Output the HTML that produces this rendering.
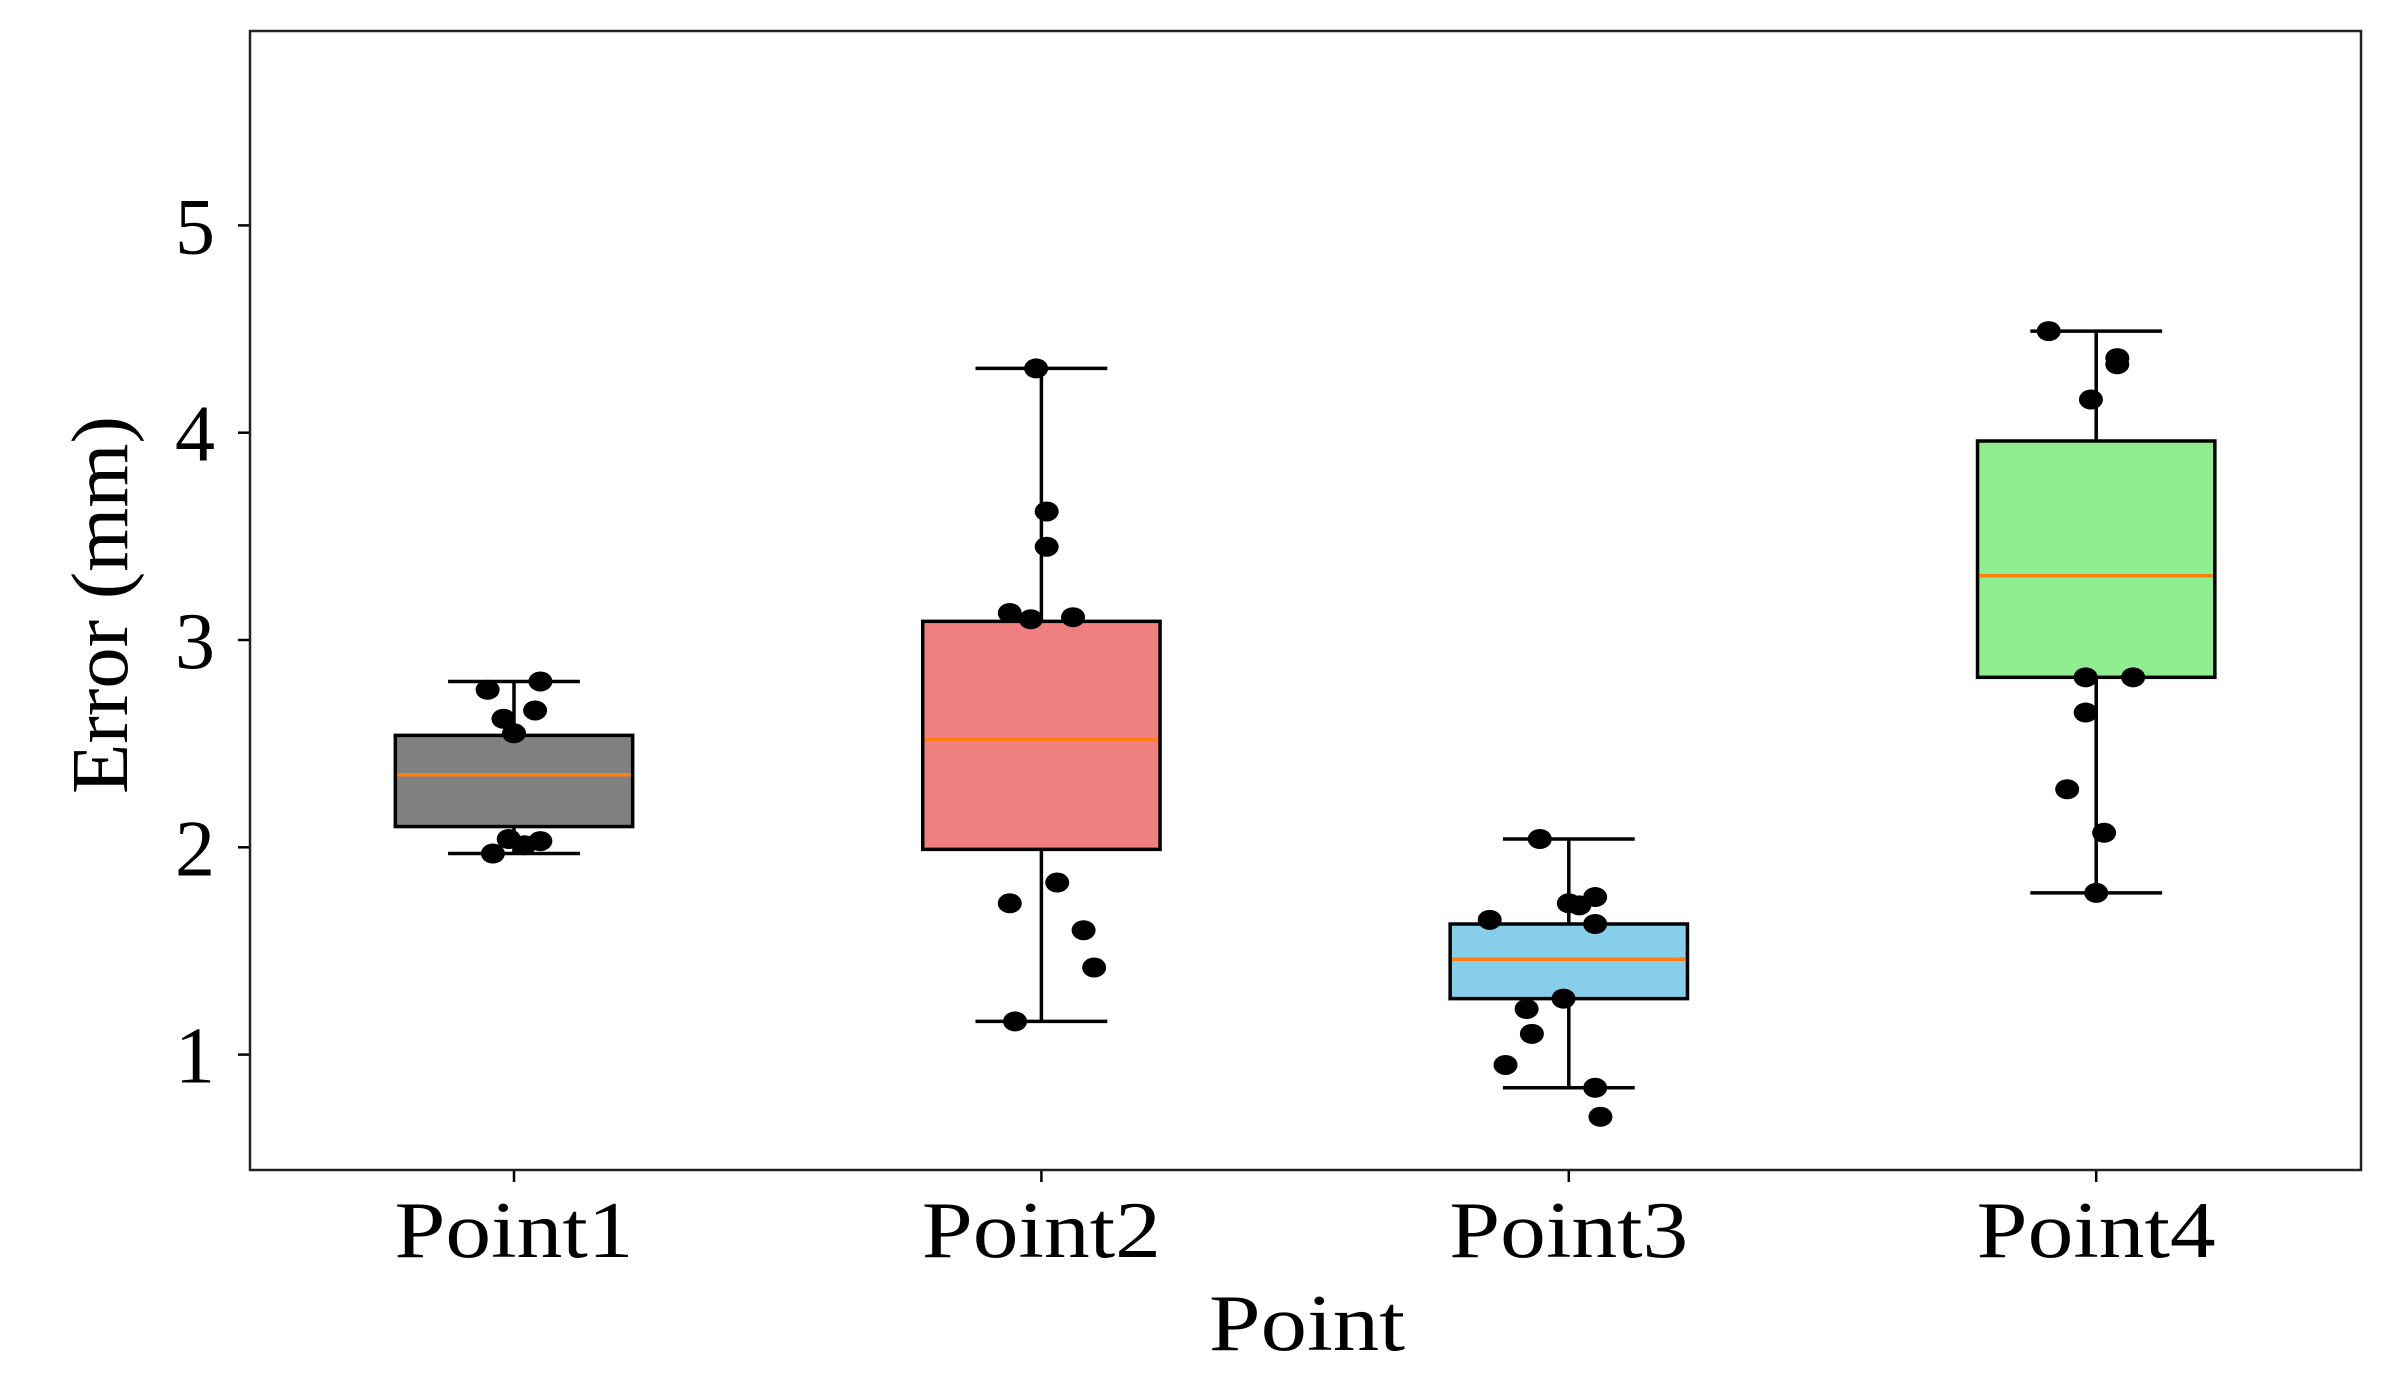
<!DOCTYPE html>
<html><head><meta charset="utf-8"><style>body{margin:0;background:#fff}svg{display:block}</style></head>
<body>
<svg id="chart" width="2408" height="1377" viewBox="0 0 2408 1377" xmlns="http://www.w3.org/2000/svg" font-family="'Liberation Serif', serif">
<rect width="2408" height="1377" fill="#fff"/>
<g id="marks"></g>
</svg>
<script>
const categories = ["Point1","Point2","Point3","Point4"];
const colors = ["#808080","#f08080","#87ceeb","#90ee90"];
const whiskerLow = [1.97,1.16,0.84,1.78];
const q1 = [2.10,1.99,1.27,2.82];
const medians = [2.35,2.52,1.46,3.31];
const q3 = [2.54,3.09,1.63,3.96];
const whiskerHigh = [2.80,4.31,2.04,4.49];
const pts1 = [2.80,2.76,2.66,2.62,2.55,2.04,2.03,2.01,1.97];
const jit1 = [0.05,-0.05,0.04,-0.02,0,-0.01,0.05,0.02,-0.04];
const pts2 = [4.31,3.62,3.45,3.13,3.11,3.10,1.83,1.73,1.60,1.42,1.16];
const jit2 = [-0.01,0.01,0.01,-0.06,0.06,-0.02,0.03,-0.06,0.08,0.10,-0.05];
const pts3 = [2.04,1.76,1.73,1.72,1.65,1.63,1.27,1.22,1.10,0.95,0.84,0.70];
const jit3 = [-0.055,0.05,0.0,0.02,-0.15,0.05,-0.01,-0.08,-0.07,-0.12,0.05,0.06];
const pts4 = [4.49,4.36,4.33,4.16,2.82,2.82,2.65,2.28,2.07,1.78];
const jit4 = [-0.09,0.04,0.04,-0.01,-0.02,0.07,-0.02,-0.055,0.015,0];
const yTicks = [1,2,3,4,5];

const L=250,R=2361,T=31,B=1170;
const SX=527.4, SY=207.3;
const x = v => 514 + (v-1)*SX;
const y = v => 225.4 + (5-v)*SY;
const NS="http://www.w3.org/2000/svg";
const g=document.getElementById('marks');
function mk(tag,attrs,parent){const e=document.createElementNS(NS,tag);for(const k in attrs)e.setAttribute(k,attrs[k]);(parent||g).appendChild(e);return e;}

const pts=[pts1,pts2,pts3,pts4], jits=[jit1,jit2,jit3,jit4];
const hw=0.225*SX, cap=0.125*SX;
categories.forEach((c,i)=>{
  const cx=x(i+1);
  const grp=mk('g',{});
  
  
  let e=mk('line',{x1:cx,x2:cx,y1:y(whiskerLow[i]),y2:y(whiskerHigh[i]),stroke:'#000','stroke-width':3.5},grp);
  
  
  [whiskerLow[i],whiskerHigh[i]].forEach(v=>{
    const w=mk('line',{x1:cx-cap,x2:cx+cap,y1:y(v),y2:y(v),stroke:'#000','stroke-width':3.5},grp);
    
    
  });
  e=mk('rect',{x:cx-hw,y:y(q3[i]),width:2*hw,height:y(q1[i])-y(q3[i]),fill:colors[i],stroke:'#000','stroke-width':3.5},grp);
  
  
  pts[i].forEach((v,j)=>{
    const d=mk('ellipse',{cx:x(i+1+jits[i][j]),cy:y(v),rx:12,ry:10,fill:'#000'},grp);
    
    
  });
  e=mk('line',{x1:cx-hw+2,x2:cx+hw-2,y1:y(medians[i]),y2:y(medians[i]),stroke:'#ff7f0e','stroke-width':3.5},grp);
  
  
  const tk=mk('line',{x1:cx,x2:cx,y1:B,y2:B+12,stroke:'#000','stroke-width':2.5});
  
  
  const t=mk('text',{x:cx,y:1257,'text-anchor':'middle','font-size':80,textLength:239,lengthAdjust:'spacingAndGlyphs'});
  t.textContent=c;
  
  
});
yTicks.forEach(v=>{
  const tk=mk('line',{x1:L-12,x2:L,y1:y(v),y2:y(v),stroke:'#000','stroke-width':2.5});
  
  
  const t=mk('text',{x:215,y:y(v)+28,'text-anchor':'end','font-size':80});
  t.textContent=v;
  
  
});
const frame=mk('rect',{x:L,y:T,width:R-L,height:B-T,fill:'none',stroke:'#222','stroke-width':2.5});


const xt=mk('text',{x:1307,y:1350,'text-anchor':'middle','font-size':80,textLength:196,lengthAdjust:'spacingAndGlyphs'});
xt.textContent='Point';


const yt=mk('text',{x:0,y:0,'text-anchor':'middle','font-size':80,textLength:378,lengthAdjust:'spacingAndGlyphs',transform:'translate(127,605) rotate(-90)'});
yt.textContent='Error (mm)';


</script>
</body></html>
